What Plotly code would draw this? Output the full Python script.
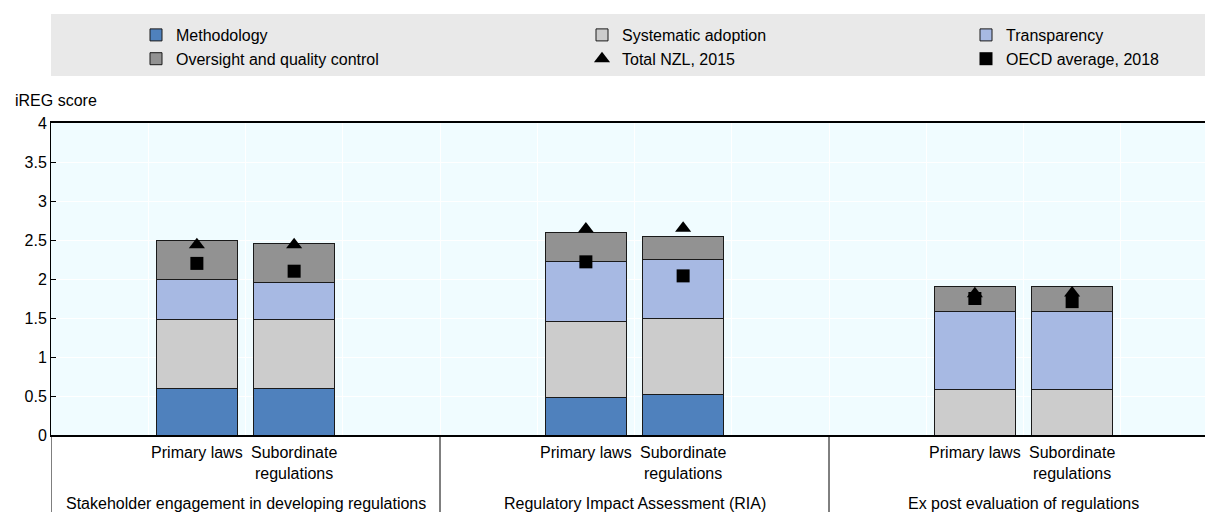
import plotly.graph_objects as go

groups = ["Stakeholder engagement in developing regulations",
          "Regulatory Impact Assessment (RIA)",
          "Ex post evaluation of regulations"]
group_keys = ["SE", "RIA", "EXP"]
slot_labels = ["", "Primary laws", "Subordinate<br>regulations", ""]

# values per group: (Primary laws, Subordinate regulations)
methodology = [0.60, 0.60, 0.48, 0.52, 0.0, 0.0]
systematic = [0.88, 0.88, 0.97, 0.98, 0.58, 0.58]
transparency = [0.52, 0.47, 0.775, 0.745, 1.0, 1.0]
oversight = [0.50, 0.50, 0.365, 0.30, 0.33, 0.33]
total_nzl_2015 = [2.44, 2.44, 2.64, 2.65, 1.81, 1.82]
oecd_avg_2018 = [2.20, 2.10, 2.22, 2.04, 1.75, 1.71]

y_ticks = [0, 0.5, 1, 1.5, 2, 2.5, 3, 3.5, 4]

# category slots: 4 per group (pad, primary, subordinate, pad)
slots, slot_text = [], []
for k in group_keys:
    for j, s in enumerate(slot_labels):
        slots.append(f"{k}_{j}")
        slot_text.append(s)


def expand(vals):
    out = []
    for i in range(len(groups)):
        out += [None, vals[2 * i], vals[2 * i + 1], None]
    return out


FONT = "Liberation Sans, Arial, sans-serif"
fig = go.Figure()

bar_specs = [
    ("Methodology", methodology, "#4f81bd", "legend"),
    ("Systematic adoption", systematic, "#cccccc", "legend2"),
    ("Transparency", transparency, "#a7b9e3", "legend3"),
    ("Oversight and quality control", oversight, "#929292", "legend"),
]
for name, vals, col, lg in bar_specs:
    fig.add_trace(go.Bar(
        x=slots, y=expand(vals), name=name,
        marker=dict(color=col, line=dict(color="#1a1a1a", width=1)),
        legend=lg,
    ))

fig.add_trace(go.Scatter(
    x=slots, y=expand(total_nzl_2015), name="Total NZL, 2015",
    mode="markers", marker=dict(symbol="triangle-up", size=14, color="black"),
    legend="legend2",
))
fig.add_trace(go.Scatter(
    x=slots, y=expand(oecd_avg_2018), name="OECD average, 2018",
    mode="markers", marker=dict(symbol="square", size=13, color="black"),
    legend="legend3",
))

W, H = 1205, 512
L, R, T, B = 51, 0, 123, 77
pw, ph = W - L - R, H - T - B
n_per_group = len(slot_labels)
slot_px = 389 / n_per_group


def px_x(px):
    return (px - L) / pw


def px_y(py):
    return (H - B - py) / ph


legend_common = dict(
    orientation="v", traceorder="normal", bgcolor="rgba(0,0,0,0)",
    font=dict(family=FONT, size=16, color="black"),
    yanchor="top", y=px_y(18), xanchor="left", tracegroupgap=0,
)

shapes = [dict(type="rect", xref="paper", yref="paper",
               x0=0, x1=1, y0=px_y(76), y1=px_y(14),
               fillcolor="#e9e9e9", line=dict(width=0), layer="below")]
# group dividers below the axis
for gi in range(len(groups)):
    shapes.append(dict(type="line", xref="x", yref="paper",
                       x0=gi * n_per_group - 0.5, x1=gi * n_per_group - 0.5,
                       y0=0, y1=px_y(H + 5),
                       line=dict(color="black", width=1)))

annotations = [dict(text="iREG score", xref="paper", yref="paper",
                    x=px_x(13), y=px_y(100), xanchor="left", yanchor="middle",
                    showarrow=False, font=dict(family=FONT, size=16, color="black"))]
for gi, g in enumerate(groups):
    annotations.append(dict(text=g, xref="x", yref="paper",
                            x=gi * n_per_group + (n_per_group - 1) / 2, y=px_y(503),
                            xanchor="center", yanchor="middle", showarrow=False,
                            font=dict(family=FONT, size=16, color="black")))

fig.update_layout(
    width=W, height=H,
    margin=dict(l=L, r=R, t=T, b=B, autoexpand=False),
    paper_bgcolor="white",
    plot_bgcolor="#f0fcff",
    barmode="stack",
    bargap=0.167,
    font=dict(family=FONT, size=16, color="black"),
    showlegend=True,
    legend=dict(**legend_common, x=px_x(136)),
    legend2=dict(**legend_common, x=px_x(582)),
    legend3=dict(**legend_common, x=px_x(966)),
    xaxis=dict(
        type="category", automargin=False,
        categoryorder="array", categoryarray=slots,
        tickmode="array", tickvals=slots, ticktext=slot_text,
        tickson="boundaries",
        range=[-0.5, -0.5 + pw / slot_px],
        showgrid=True, gridcolor="white", gridwidth=1,
        showline=True, linecolor="black", linewidth=2, mirror=True,
        ticks="", tickangle=0, ticklabelstandoff=2,
        tickfont=dict(family=FONT, size=16, color="black"),
    ),
    yaxis=dict(
        automargin=False,
        range=[0, 4], tickvals=y_ticks,
        showgrid=True, gridcolor="white", gridwidth=1,
        showline=True, linecolor="black", linewidth=1,
        ticks="inside", ticklen=5, tickcolor="black",
        zeroline=False,
        tickfont=dict(family=FONT, size=16, color="black"),
    ),
    shapes=shapes,
    annotations=annotations,
)

fig.write_html("out.html", config={"displayModeBar": False},
               post_script="document.body.style.margin='0';")
